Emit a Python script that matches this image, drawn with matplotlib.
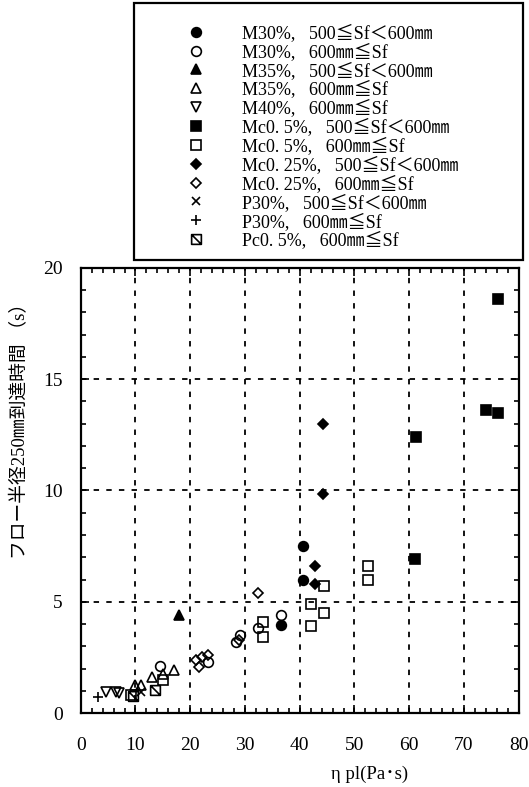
import matplotlib
matplotlib.use("Agg")
import matplotlib.pyplot as plt
from matplotlib.path import Path
from matplotlib.patches import Rectangle
from matplotlib.ticker import MultipleLocator

plt.rcParams["font.family"] = ["Liberation Serif", "Noto Sans CJK JP", "DejaVu Sans"]

# 系列ごとの (ηpl, 到達時間) データ
m30_a_x = [40.6, 40.6, 36.6]
m30_a_y = [7.5, 6.0, 3.95]
m30_b_x = [14.4, 23.3, 28.4, 29.1, 32.4, 36.6]
m30_b_y = [2.1, 2.3, 3.2, 3.5, 3.8, 4.4]
m35_a_x = [18.0]
m35_a_y = [4.4]
m35_b_x = [9.9, 11.1, 13.0, 15.0, 17.1]
m35_b_y = [1.25, 1.25, 1.6, 1.75, 1.95]
m40_b_x = [4.7, 6.5, 7.0]
m40_b_y = [0.95, 0.95, 0.9]
mc05_a_x = [61.2, 61.1, 74.1, 76.2, 76.3]
mc05_a_y = [12.4, 6.9, 13.6, 13.5, 18.6]
mc05_b_x = [9.2, 15.0, 33.3, 33.3, 42.0, 42.0, 44.5, 44.5, 52.4, 52.4]
mc05_b_y = [0.8, 1.5, 4.1, 3.4, 4.9, 3.9, 5.7, 4.5, 6.6, 6.0]
mc025_a_x = [44.2, 44.2, 42.8, 42.8]
mc025_a_y = [13.0, 9.85, 6.6, 5.8]
mc025_b_x = [21.0, 21.6, 22.2, 23.3, 28.9, 32.3]
mc025_b_y = [2.4, 2.05, 2.5, 2.6, 3.3, 5.4]
p30_a_x = [11.0]
p30_a_y = [0.95]
p30_b_x = [3.1]
p30_b_y = [0.7]
pc05_b_x = [9.5, 13.5]
pc05_b_y = [0.78, 1.05]

labels = [
    "M30%,   500≦Sf＜600㎜",
    "M30%,   600㎜≦Sf",
    "M35%,   500≦Sf＜600㎜",
    "M35%,   600㎜≦Sf",
    "M40%,   600㎜≦Sf",
    "Mc0. 5%,   500≦Sf＜600㎜",
    "Mc0. 5%,   600㎜≦Sf",
    "Mc0. 25%,   500≦Sf＜600㎜",
    "Mc0. 25%,   600㎜≦Sf",
    "P30%,   500≦Sf＜600㎜",
    "P30%,   600㎜≦Sf",
    "Pc0. 5%,   600㎜≦Sf",
]

# 斜線入りの四角マーカー
slash_box = Path(
    [(-1, -1), (1, -1), (1, 1), (-1, 1), (-1, -1), (-1, 1), (1, -1)],
    [Path.MOVETO, Path.LINETO, Path.LINETO, Path.LINETO, Path.CLOSEPOLY,
     Path.MOVETO, Path.LINETO],
)

series = [
    (m30_a_x, m30_a_y, dict(marker="o", ms=7, mfc="k")),
    (m30_b_x, m30_b_y, dict(marker="o", ms=7, mfc="none")),
    (m35_a_x, m35_a_y, dict(marker="^", ms=7, mfc="k")),
    (m35_b_x, m35_b_y, dict(marker="^", ms=7, mfc="none")),
    (m40_b_x, m40_b_y, dict(marker="v", ms=7, mfc="none")),
    (mc05_a_x, mc05_a_y, dict(marker="s", ms=7.5, mfc="k")),
    (mc05_b_x, mc05_b_y, dict(marker="s", ms=7, mfc="none")),
    (mc025_a_x, mc025_a_y, dict(marker="D", ms=5.5, mfc="k")),
    (mc025_b_x, mc025_b_y, dict(marker="D", ms=5.5, mfc="none")),
    (p30_a_x, p30_a_y, dict(marker="x", ms=6, mfc="none")),
    (p30_b_x, p30_b_y, dict(marker="+", ms=7, mfc="none")),
    (pc05_b_x, pc05_b_y, dict(marker=slash_box, ms=7, mfc="none")),
]

fig = plt.figure(figsize=(5.29, 7.87), dpi=100)
ax = fig.add_axes([0.1526, 0.094, 0.8280, 0.5655])

handles = []
for (xs, ys, st), lab in zip(series, labels):
    h, = ax.plot(xs, ys, linestyle="none", color="k", mec="k", mew=1.2,
                 label=lab, **st)
    handles.append(h)

ax.set_xlim(0, 80)
ax.set_ylim(0, 20)
ax.xaxis.set_major_locator(MultipleLocator(10))
ax.xaxis.set_minor_locator(MultipleLocator(2))
ax.yaxis.set_major_locator(MultipleLocator(5))
ax.yaxis.set_minor_locator(MultipleLocator(1))
ax.tick_params(which="both", direction="in", top=True, right=True,
               width=1.2, colors="k")
ax.tick_params(which="major", length=6)
ax.tick_params(which="minor", length=3.5)
ax.tick_params(axis="x", which="major", pad=17, labelsize=14)
ax.tick_params(axis="y", which="major", pad=13, labelsize=14)
for sp in ax.spines.values():
    sp.set_linewidth(1.6)

ax.grid(True, which="major", color="k", linestyle=(0, (3, 4)), linewidth=1.3)

ax.set_xlabel("η pl(Pa･s)", fontsize=13.5)
ax.xaxis.set_label_coords(0.66, -0.118)
ax.set_ylabel("フロー半径250㎜到達時間 （s）", fontsize=13.5)
ax.yaxis.set_label_coords(-0.118, 0.643)

# 凡例枠
fig.patches.append(Rectangle((134 / 529, 1 - 260 / 787), 389 / 529, 257 / 787,
                             transform=fig.transFigure, fill=False,
                             edgecolor="k", linewidth=1.6))
fig.legend(handles=handles, loc="upper left",
           bbox_to_anchor=(187 / 529, 1 - 24 / 787),
           frameon=False, fontsize=13, handlelength=0.95, handletextpad=2.1,
           borderpad=0, borderaxespad=0, labelspacing=0.05, numpoints=1)

fig.savefig("out.png", dpi=100)
